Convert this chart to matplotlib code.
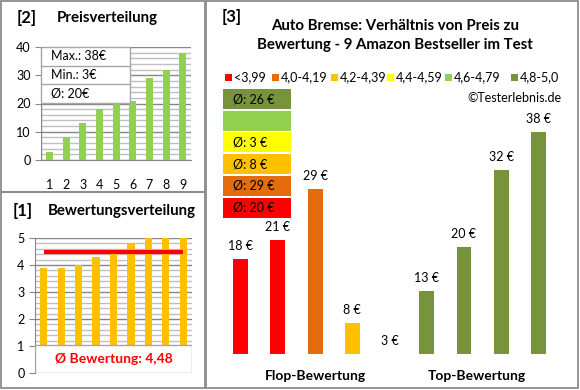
import matplotlib
matplotlib.use("Agg")
import matplotlib.pyplot as plt
from matplotlib.patches import Rectangle
from matplotlib.lines import Line2D

plt.rcParams['font.family'] = ['Lato', 'DejaVu Sans']

# data
price_idx = [1, 2, 3, 4, 5, 6, 7, 8, 9]
prices_sorted = [3, 8, 13, 18, 20, 21, 29, 32, 38]
price_stats = ["Max.: 38€", "Min.: 3€", "Ø: 20€"]

ratings_sorted = [3.9, 3.9, 4.0, 4.3, 4.4, 4.8, 5.0, 5.0, 5.0]
rating_avg = 4.48
rating_text = "Ø Bewertung: 4,48"

bar_prices = [18, 21, 29, 8, 3, 13, 20, 32, 38]
bar_labels = ["18 €", "21 €", "29 €", "8 €", "3 €", "13 €", "20 €", "32 €", "38 €"]
bar_classes = [0, 0, 1, 2, 3, 5, 5, 5, 5]
class_names = ["<3,99", "4,0-4,19", "4,2-4,39", "4,4-4,59", "4,6-4,79", "4,8-5,0"]
class_colors = ["#FF0000", "#E46C0A", "#FFC000", "#FFFF00", "#92D050", "#77933C"]
class_avgs = ["Ø: 20 €", "Ø: 29 €", "Ø: 8 €", "Ø: 3 €", "", "Ø: 26 €"]
group_names = ["Flop-Bewertung", "Top-Bewertung"]

W, H = 580, 390
fig = plt.figure(figsize=(W / 100, H / 100), dpi=100)


def px_axes(x0, y0, x1, y1, **kw):
    return fig.add_axes([x0 / W, 1 - y1 / H, (x1 - x0) / W, (y1 - y0) / H], **kw)


def fx(x):
    return x / W


def fy(y):
    return 1 - y / H


border = "#8C8C8C"
# panel frames
for (x0, y0, x1, y1) in [(1, 1, 205, 192), (1, 192, 205, 388), (206, 1, 578, 388)]:
    fig.patches.append(Rectangle((fx(x0), fy(y1)), (x1 - x0) / W, (y1 - y0) / H,
                                 transform=fig.transFigure, fill=False,
                                 edgecolor=border, linewidth=1.3))


def style_axis(ax, major, minor):
    for s in ["top", "right"]:
        ax.spines[s].set_visible(False)
    ax.spines["left"].set_color("#868686")
    ax.spines["bottom"].set_color("#868686")
    ax.set_yticks(major)
    ax.set_yticks(minor, minor=True)
    ax.yaxis.grid(True, which="major", color="#868686", linewidth=1)
    ax.yaxis.grid(True, which="minor", color="#BFBFBF", linewidth=1)
    ax.set_axisbelow(True)
    ax.tick_params(axis="y", which="major", length=4, color="#868686", labelsize=9)
    ax.tick_params(axis="y", which="minor", length=0)


# [2] Preisverteilung
fig.text(fx(17), fy(18), "[2]", fontsize=12, fontweight="bold", va="center")
fig.text(fx(57), fy(18), "Preisverteilung", fontsize=10.8, fontweight="bold", va="center")
ax1 = px_axes(41, 47, 191, 160)
ax1.bar(range(9), prices_sorted, width=0.42, color="#92D050")
ax1.set_xlim(-0.5, 8.5)
ax1.set_ylim(0, 40)
style_axis(ax1, [0, 10, 20, 30, 40], range(0, 41, 2))
ax1.set_xticks(range(9))
ax1.set_xticklabels(price_idx)
ax1.tick_params(axis="x", length=0, pad=14, labelsize=9)
ax1.spines["left"].set_visible(False)
ax1.axvline(-0.5, color="#868686", linewidth=1)
# stats box
bx0, by0, bx1, by1 = 41, 47, 130, 103
fig.patches.append(Rectangle((fx(bx0), fy(by1)), (bx1 - bx0) / W, (by1 - by0) / H,
                             transform=fig.transFigure, facecolor="white",
                             edgecolor="#A6A6A6", linewidth=1, zorder=5))
rh = (by1 - by0) / 3
for i, s in enumerate(price_stats):
    fig.text(fx(51), fy(by0 + rh * (i + 0.5)), s, fontsize=9, va="center", zorder=6)
    if i > 0:
        fig.add_artist(Line2D([fx(bx0), fx(bx1)], [fy(by0 + rh * i)] * 2,
                              color="#A6A6A6", linewidth=1, zorder=6))

# [1] Bewertungsverteilung
fig.text(fx(13), fy(211), "[1]", fontsize=12, fontweight="bold", va="center")
fig.text(fx(48), fy(211), "Bewertungsverteilung", fontsize=10.8, fontweight="bold", va="center")
ax2 = px_axes(35, 238, 192, 373)
ax2.bar(range(9), ratings_sorted, width=0.42, color="#FFC000")
ax2.set_xlim(-0.5, 8.5)
ax2.set_ylim(0, 5)
style_axis(ax2, [0, 1, 2, 3, 4, 5], [i / 5 for i in range(26)])
ax2.set_xticks([])
ax2.spines["bottom"].set_visible(False)
ax2.hlines(rating_avg, 0, 8, color="#FF0000", linewidth=3, zorder=4)
ax2.add_patch(Rectangle((-0.5, 0.01), 9, 1.03, facecolor="white",
                        edgecolor="#A6A6A6", linewidth=1, zorder=5))
ax2.text(4, 0.52, rating_text, color="#FF0000", fontsize=10, fontweight="bold",
         ha="center", va="center", zorder=6)

# [3] price vs rating
fig.text(fx(222), fy(17), "[3]", fontsize=12, fontweight="bold", va="center")
fig.text(fx(395), fy(26), "Auto Bremse: Verhältnis von Preis zu", fontsize=10.8,
         fontweight="bold", ha="center", va="center")
fig.text(fx(395), fy(45), "Bewertung - 9 Amazon Bestseller im Test", fontsize=10.8,
         fontweight="bold", ha="center", va="center")

leg_x = [225, 272, 331, 387, 445, 511]
for x, name, col in zip(leg_x, class_names, class_colors):
    fig.patches.append(Rectangle((fx(x), fy(81)), 7 / W, 7 / H, transform=fig.transFigure,
                                 facecolor=col, edgecolor="none"))
    fig.text(fx(x + 9), fy(77), name, fontsize=9, va="center")
fig.text(fx(562), fy(98), "©Testerlebnis.de", fontsize=9, ha="right", va="center")

ax3 = px_axes(222, 100, 557, 354)
ax3.bar(range(9), bar_prices, width=0.4, bottom=0,
        color=[class_colors[c] for c in bar_classes])
ax3.set_xlim(-0.5, 8.5)
ax3.set_ylim(3.13, 43)
ax3.axis("off")
for i, (v, lab) in enumerate(zip(bar_prices, bar_labels)):
    ax3.annotate(lab, (i, max(v, 3.13)), xytext=(0, 5), textcoords="offset points",
                 ha="center", va="bottom", fontsize=9)
ax3.text(2.0, -0.085, group_names[0], transform=ax3.get_xaxis_transform(),
         ha="center", va="center", fontsize=10, fontweight="bold")
ax3.text(6.35, -0.085, group_names[1], transform=ax3.get_xaxis_transform(),
         ha="center", va="center", fontsize=10, fontweight="bold")

# average boxes, top to bottom
box_top = 89
for k, ci in enumerate([5, 4, 3, 2, 1, 0]):
    y0 = box_top + k * 21.7
    fig.patches.append(Rectangle((fx(223), fy(y0 + 20)), 68 / W, 20 / H,
                                 transform=fig.transFigure, facecolor=class_colors[ci],
                                 edgecolor="none", zorder=3))
    fig.text(fx(233), fy(y0 + 10), class_avgs[ci], fontsize=9, va="center", zorder=4)

fig.savefig("out.png", dpi=100)
